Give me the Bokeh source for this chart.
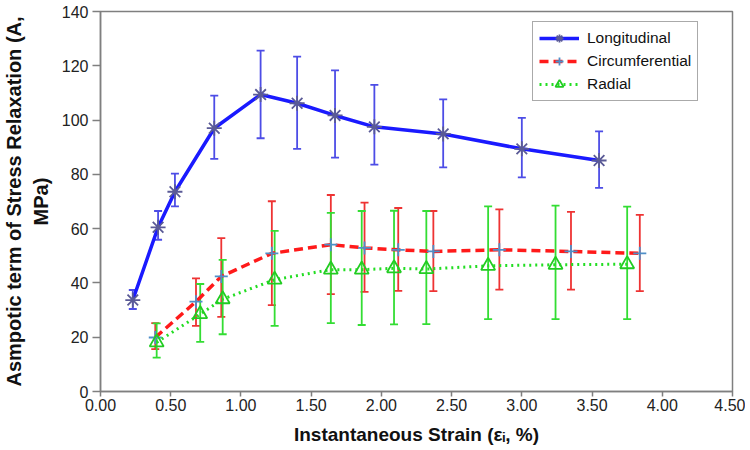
from bokeh.plotting import figure
from bokeh.models import (Whisker, TeeHead, ColumnDataSource, Legend, LegendItem,
                          NumeralTickFormatter, FixedTicker, Range1d)
from bokeh.embed import file_html
from bokeh.resources import INLINE

# ---- data ----
long_x = [0.23, 0.41, 0.53, 0.81, 1.14, 1.40, 1.67, 1.95, 2.44, 3.00, 3.55]
long_y = [33.7, 60.5, 73.6, 97.0, 109.4, 106.2, 101.7, 97.5, 94.9, 89.4, 85.1]
long_hi = [37.4, 66.5, 80.3, 109.0, 125.6, 123.4, 118.3, 113.0, 107.6, 100.8, 95.8]
long_lo = [30.4, 55.9, 68.2, 85.7, 93.3, 89.4, 86.2, 83.6, 82.6, 78.9, 75.0]

circ_x = [0.39, 0.68, 0.86, 1.22, 1.64, 1.88, 2.12, 2.37, 2.84, 3.35, 3.84]
circ_y = [19.9, 33.1, 42.4, 50.9, 54.1, 52.9, 52.2, 51.6, 52.2, 51.6, 50.9]
circ_hi = [25.2, 41.7, 56.5, 70.1, 72.4, 69.6, 67.6, 66.5, 67.1, 66.2, 65.1]
circ_lo = [15.6, 24.2, 27.5, 31.8, 35.9, 36.7, 37.1, 37.0, 37.5, 37.5, 37.0]

rad_x = [0.40, 0.71, 0.87, 1.24, 1.64, 1.86, 2.09, 2.32, 2.76, 3.24, 3.75]
rad_y = [18.1, 28.5, 34.0, 41.2, 44.9, 44.9, 45.4, 45.1, 46.3, 46.7, 46.9]
rad_hi = [25.1, 39.6, 48.5, 59.2, 65.8, 66.5, 66.6, 66.5, 68.2, 68.5, 68.1]
rad_lo = [12.5, 18.3, 21.1, 24.2, 25.2, 24.5, 24.7, 24.8, 26.7, 26.7, 26.7]

x_ticks = [0.0, 0.5, 1.0, 1.5, 2.0, 2.5, 3.0, 3.5, 4.0, 4.5]
y_ticks = [0, 20, 40, 60, 80, 100, 120, 140]

FONT = "Liberation Sans"

p = figure(frame_width=632, frame_height=380, output_backend="svg",
           toolbar_location=None, x_range=Range1d(0, 4.5), y_range=Range1d(0, 140),
           min_border_left=10, min_border_right=13, min_border_top=11, min_border_bottom=10)
p.background_fill_color = "white"
p.border_fill_color = "white"
p.outline_line_color = "#7f7f7f"
p.outline_line_width = 1.5
p.xgrid.visible = False
p.ygrid.visible = False

for ax in (p.xaxis[0], p.yaxis[0]):
    ax.axis_line_color = "#7f7f7f"
    ax.axis_line_width = 1.5
    ax.major_tick_line_color = "#7f7f7f"
    ax.major_tick_line_width = 1.5
    ax.major_tick_in = 0
    ax.minor_tick_line_color = None
    ax.major_label_text_font = FONT
    ax.major_label_text_font_size = "16px"
    ax.major_label_text_color = "#222222"
    ax.axis_label_text_font = FONT
    ax.axis_label_text_font_style = "bold"
    ax.axis_label_text_color = "#111111"

p.xaxis.major_tick_out = 5
p.yaxis.major_tick_out = 8
p.xaxis.ticker = FixedTicker(ticks=x_ticks)
p.yaxis.ticker = FixedTicker(ticks=y_ticks)
p.xaxis.formatter = NumeralTickFormatter(format="0.00")
p.xaxis.major_label_standoff = 2
p.yaxis.major_label_standoff = 4
p.xaxis.axis_label = "Instantaneous Strain (\u03b5\u1d62, %)"
p.xaxis.axis_label_text_font_size = "19px"
p.xaxis.axis_label_standoff = 10
p.yaxis.axis_label = "Asmpotic term of Stress Relaxation (A,\nMPa)"
p.yaxis.axis_label_text_font_size = "20px"
p.yaxis.axis_label_standoff = 7


def series(xs, ys, his, los, line_color, err_color, dash, lw, marker, mcolor, msize, mfill):
    src = ColumnDataSource(dict(x=xs, y=ys, hi=his, lo=los))
    w = Whisker(base="x", upper="hi", lower="lo", source=src, dimension="height",
                line_color=err_color, line_width=1.8,
                upper_head=TeeHead(size=8, line_color=err_color, line_width=1.8),
                lower_head=TeeHead(size=8, line_color=err_color, line_width=1.8))
    p.add_layout(w)
    ln = p.line("x", "y", source=src, line_color=line_color, line_width=lw, line_dash=dash)
    mk = p.scatter("x", "y", source=src, marker=marker, size=msize, line_color=mcolor,
                   line_width=1.8, fill_color=mfill)
    return ln, mk


l1 = series(long_x, long_y, long_hi, long_lo, "#1a1aff", "#4d4de6", "solid", 3.5,
            "asterisk", "#5a5a96", 15, None)
l2 = series(circ_x, circ_y, circ_hi, circ_lo, "#ff1a1a", "#ee3333", "9 5", 3.5,
            "cross", "#4f8fc8", 13, None)
l3 = series(rad_x, rad_y, rad_hi, rad_lo, "#22dd22", "#33dd33", "2 4", 3.0,
            "triangle", "#22cc22", 14, None)

legend = Legend(items=[LegendItem(label="Longitudinal", renderers=list(l1)),
                       LegendItem(label="Circumferential", renderers=list(l2)),
                       LegendItem(label="Radial", renderers=list(l3))],
                location=(432, 290))
legend.label_text_font = FONT
legend.label_text_font_size = "15.5px"
legend.label_text_color = "#111111"
legend.border_line_color = "#555555"
legend.border_line_width = 1.5
legend.glyph_width = 40
legend.glyph_height = 20
legend.label_height = 20
legend.spacing = 3
legend.padding = 6
legend.margin = 0
legend.label_standoff = 8
legend.background_fill_alpha = 1
p.add_layout(legend)

open("out.html", "w").write(file_html(p, INLINE))
